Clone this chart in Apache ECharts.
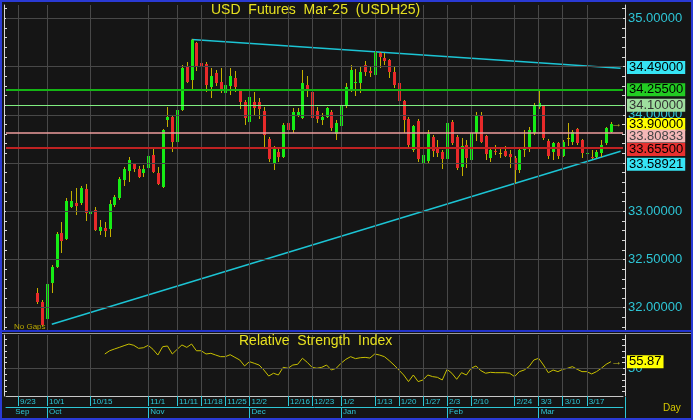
<!DOCTYPE html>
<html><head><meta charset="utf-8">
<script src="https://cdn.jsdelivr.net/npm/echarts/dist/echarts.min.js"></script>
<style>html,body{margin:0;padding:0;background:#151515}#c{width:693px;height:420px}</style>
</head><body><div id="c"></div>
<script>
// ---------- DATA ----------
const dates = ['9/19','9/20','9/23','9/24','9/25','9/26','9/27','9/30','10/1','10/2','10/3','10/4','10/7','10/8','10/9','10/10','10/11','10/15','10/16','10/17','10/18','10/21','10/22','10/23','10/24','10/25','10/28','10/29','10/30','11/1','11/4','11/5','11/6','11/7','11/8','11/11','11/12','11/13','11/14','11/15','11/18','11/19','11/20','11/21','11/22','11/25','11/26','11/27','11/28','11/29','12/2','12/3','12/4','12/5','12/6','12/9','12/10','12/11','12/16','12/17','12/18','12/19','12/20','12/23','12/24','12/26','12/27','12/30','12/31','1/2','1/3','1/6','1/7','1/8','1/9','1/10','1/13','1/14','1/15','1/16','1/17','1/20','1/21','1/22','1/23','1/24','1/27','1/28','1/29','1/30','1/31','2/3','2/4','2/5','2/6','2/7','2/10','2/11','2/12','2/13','2/14','2/18','2/19','2/20','2/21','2/24','2/25','2/26','2/27','2/28','3/3','3/4','3/5','3/6','3/7','3/10','3/11','3/12','3/13','3/14','3/17','3/18','3/19','3/20','3/21','3/24','3/25','3/26'];
const candleStart = 6;   // index in dates of the first candle (9/27)
const open = [32.155,32.060,31.884,32.257,32.423,32.775,32.713,33.045,33.086,33.086,33.231,32.972,33.014,32.796,32.827,32.817,33.065,33.138,33.324,33.418,33.490,33.438,33.397,33.449,33.584,33.397,33.252,33.946,33.977,33.718,34.050,34.506,34.361,34.744,34.537,34.526,34.288,34.433,34.340,34.226,34.299,34.381,34.246,34.132,33.925,34.132,34.132,34.039,33.749,33.501,33.614,33.563,33.915,33.842,33.998,33.967,34.309,34.236,34.039,33.946,33.977,34.029,33.801,33.884,34.101,34.257,34.330,34.330,34.516,34.454,34.412,34.640,34.588,34.568,34.443,34.330,34.143,33.956,33.635,33.936,33.501,33.521,33.770,33.656,33.614,33.542,33.925,33.770,33.459,33.687,33.532,33.811,33.998,33.780,33.553,33.625,33.604,33.625,33.594,33.553,33.428,33.635,33.656,33.811,34.081,34.091,33.729,33.614,33.708,33.573,33.760,33.718,33.853,33.739,33.594,33.563,33.563,33.604,33.708,33.822];
const close = [32.060,31.822,32.247,32.423,32.765,32.692,33.107,33.107,33.055,33.241,32.983,33.003,32.806,32.837,32.796,33.076,33.148,33.335,33.438,33.532,33.438,33.355,33.438,33.573,33.408,33.283,33.842,33.977,33.718,34.050,34.485,34.340,34.775,34.506,34.495,34.309,34.402,34.329,34.267,34.309,34.402,34.288,34.132,33.967,34.184,34.070,34.060,33.791,33.542,33.656,33.563,33.894,33.842,34.029,34.029,34.329,34.247,33.967,33.956,33.977,34.070,33.863,33.915,34.101,34.288,34.464,34.340,34.443,34.443,34.433,34.651,34.599,34.557,34.443,34.309,34.143,33.946,33.687,33.884,33.542,33.584,33.801,33.625,33.604,33.542,33.915,33.708,33.449,33.677,33.553,33.811,33.987,33.718,33.594,33.635,33.614,33.604,33.573,33.563,33.428,33.635,33.656,33.842,34.101,34.122,33.760,33.573,33.708,33.573,33.718,33.760,33.822,33.708,33.604,33.604,33.553,33.614,33.687,33.863,33.900];
const low = [32.040,31.811,31.873,32.153,32.413,32.568,32.703,33.034,32.962,33.065,32.900,32.775,32.796,32.754,32.733,32.733,33.045,33.117,33.262,33.303,33.408,33.345,33.355,33.428,33.397,33.272,33.241,33.873,33.614,33.708,34.039,34.329,34.247,34.454,34.402,34.236,34.174,34.299,34.226,34.174,34.205,34.236,34.060,33.894,33.915,33.998,33.956,33.667,33.511,33.428,33.511,33.553,33.811,33.811,33.977,33.956,34.184,33.904,33.915,33.894,33.967,33.832,33.739,33.873,34.070,34.236,34.195,34.226,34.402,34.392,34.350,34.485,34.516,34.381,34.278,34.132,33.811,33.646,33.614,33.511,33.408,33.501,33.563,33.563,33.438,33.532,33.687,33.428,33.366,33.449,33.511,33.728,33.708,33.532,33.511,33.584,33.553,33.563,33.449,33.293,33.397,33.563,33.614,33.790,34.060,33.739,33.542,33.532,33.542,33.563,33.677,33.687,33.687,33.553,33.553,33.542,33.553,33.563,33.687,33.811];
const high = [32.206,32.081,32.268,32.443,32.785,32.889,33.138,33.210,33.241,33.262,33.283,33.045,33.045,32.910,32.889,33.117,33.169,33.355,33.459,33.563,33.501,33.469,33.480,33.604,33.656,33.459,33.853,34.081,33.988,34.070,34.516,34.547,34.785,34.754,34.640,34.547,34.485,34.464,34.485,34.329,34.485,34.454,34.257,34.153,34.226,34.236,34.174,34.081,33.770,33.677,33.666,33.915,33.936,34.070,34.070,34.464,34.402,34.247,34.081,34.018,34.081,34.050,33.946,34.112,34.329,34.516,34.475,34.495,34.557,34.506,34.671,34.651,34.640,34.578,34.495,34.392,34.153,33.977,33.894,33.956,33.687,33.842,33.791,33.739,33.635,34.060,33.946,33.791,33.760,33.739,33.863,34.029,34.029,33.791,33.656,33.687,33.666,33.677,33.635,33.573,33.656,33.842,33.873,34.122,34.267,34.101,33.749,33.718,33.718,33.739,33.915,33.842,33.863,33.749,33.656,33.635,33.635,33.739,33.873,33.925];
const rsiStart = 20;     // index in dates of the first RSI value
const rsi = [62.5,65.3,66.8,68.2,69.7,71.1,70.0,67.4,67.9,70.0,66.5,61.6,68.8,69.4,62.5,66.5,70.3,68.2,71.1,65.3,65.3,62.5,63.1,61.6,60.2,60.2,61.9,59.6,57.3,52.2,55.9,54.5,53.0,48.7,43.5,45.9,44.4,51.0,50.2,53.0,53.6,58.8,55.3,51.0,50.2,51.0,53.0,48.7,50.2,54.5,57.9,60.2,58.5,59.3,59.6,59.0,62.5,61.6,60.2,56.8,53.0,48.7,44.4,38.7,44.4,38.7,40.1,44.4,43.0,42.4,40.1,49.3,45.9,40.7,46.4,44.4,50.2,52.2,48.2,45.9,46.7,46.4,46.4,46.4,45.9,43.0,47.3,48.7,51.6,57.3,58.8,53.0,46.4,48.7,47.3,49.3,50.2,51.6,49.3,47.3,47.3,45.3,47.3,50.2,53.6,55.87];
const tickDates = ['9/23','10/1','10/15','11/1','11/11','11/18','11/25','12/2','12/16','12/23','1/2','1/13','1/20','1/27','2/3','2/10','2/24','3/3','3/10','3/17'];
const monthDates = ['9/20','10/1','11/1','12/2','1/2','2/3','3/3'];
const monthNames = ['Sep','Oct','Nov','Dec','Jan','Feb','Mar'];
const priceLabels = [32, 32.5, 33, 33.5, 34, 34.5, 35];
const rsiLabels = [50];
const trendDownDates = ['11/14','3/26'];
const trendDownVals = [34.78, 34.482];
const trendUpDates = ['10/2','3/26'];
const trendUpVals = [31.829, 33.622];
const levelVals = [34.255, 34.10, 33.80833, 33.655];
const lastPrice = 33.90, trendDownLast = 34.49, trendUpLast = 33.58921, rsiLast = 55.87;

// ---------- STYLE ----------
const BG = '#151515', GRIDC = '#484848', CYAN = '#2ec6d6', YEL = '#e6e020';
const UP = '#16ec16', DOWN = '#e82a2a', WICK = '#c4b000';
const NONE = 'rgba(0,0,0,0)';
const FONT = 'Liberation Sans, Arial, sans-serif';
const priceTicks = []; for (let v = 318; v <= 351; v++) priceTicks.push(v / 10);
const rsiTicks = [30, 35, 40, 45, 50, 55, 60, 65, 70, 75];
const tickSet = new Set(tickDates);
const monthTickSet = new Set(monthDates.slice(1));
const monthSet = new Set(monthDates);

const candleData = open.map((o, i) => [dates[candleStart + i], o, close[i], low[i], high[i]]);
const rsiData = rsi.map((v, i) => [dates[rsiStart + i], v]);

function renderCandle(params, api) {
  const idx = api.value(0);
  const o = api.value(1), c = api.value(2), l = api.value(3), h = api.value(4);
  const pO = api.coord([idx, o]), pC = api.coord([idx, c]);
  const pL = api.coord([idx, l]), pH = api.coord([idx, h]);
  const x = Math.round(pO[0]);
  const top = Math.round(Math.min(pO[1], pC[1])), bot = Math.round(Math.max(pO[1], pC[1]));
  const fill = c === o ? WICK : (c > o ? UP : DOWN);
  return { type: 'group', children: [
    { type: 'line', shape: { x1: x + 0.5, y1: Math.round(pH[1]), x2: x + 0.5, y2: Math.round(pL[1]) }, style: { stroke: WICK, lineWidth: 1 } },
    { type: 'rect', shape: { x: x - 1, y: top, width: 3, height: Math.max(1, bot - top) }, style: { fill: fill } }
  ]};
}

function boxLabel(text, bg, fg, dy) {
  return { show: true, position: 'end', distance: 4, formatter: text, backgroundColor: bg, color: fg,
    fontSize: 13, fontFamily: FONT, lineHeight: 13, padding: [0, 2, 0, 2], offset: [0, dy || 0] };
}
function levelLine(v, color, width, label) {
  return { yAxis: v, lineStyle: { color: color || NONE, width: width, type: 'solid' }, label: label };
}
const gridItem = (key, v) => ({ [key]: v, lineStyle: { color: GRIDC, width: 1, type: 'solid' }, label: { show: false } });
const mainGridMarks = priceLabels.map(v => gridItem('yAxis', v)).concat(tickDates.map(d => gridItem('xAxis', d)));
const rsiGridMarks = rsiLabels.map(v => gridItem('yAxis', v)).concat(tickDates.map(d => gridItem('xAxis', d)));

const option = {
  backgroundColor: BG,
  animation: false,
  title: [
    { text: 'USD  Futures  Mar-25  (USDH25)', left: 211, top: 3, padding: 0,
      textStyle: { color: YEL, fontSize: 14, fontWeight: 'normal', fontFamily: FONT } },
    { text: 'Relative  Strength  Index', left: 239, top: 334, padding: 0,
      textStyle: { color: YEL, fontSize: 14, fontWeight: 'normal', fontFamily: FONT } }
  ],
  grid: [
    { left: 6, right: 70, top: 5, height: 325 },
    { left: 6, right: 70, top: 335, height: 61 }
  ],
  xAxis: [
    { type: 'category', gridIndex: 0, data: dates, boundaryGap: true,
      axisLine: { show: false }, axisTick: { show: false }, axisLabel: { show: false }, splitLine: { show: false } },
    { type: 'category', gridIndex: 1, data: dates, boundaryGap: true,
      axisLine: { show: true, lineStyle: { color: '#c8c8c8', width: 1 } },
      axisTick: { show: true, alignWithLabel: true, length: 10, interval: (i, v) => tickSet.has(v), lineStyle: { color: CYAN } },
      axisLabel: { show: true, interval: (i, v) => tickSet.has(v), color: CYAN, fontSize: 8, fontFamily: FONT,
        align: 'left', margin: 2, padding: [0, 0, 0, 2] },
      splitLine: { show: false } },
    { type: 'category', gridIndex: 1, data: dates, boundaryGap: true, position: 'bottom', offset: 11,
      axisLine: { show: true, lineStyle: { color: CYAN, width: 1 } },
      axisTick: { show: true, alignWithLabel: true, length: 11, interval: (i, v) => monthTickSet.has(v), lineStyle: { color: CYAN } },
      axisLabel: { show: true, interval: (i, v) => monthSet.has(v), color: CYAN, fontSize: 8, fontFamily: FONT,
        align: 'left', margin: 1, padding: [0, 0, 0, 2], formatter: v => monthNames[monthDates.indexOf(v)] },
      splitLine: { show: false } }
  ],
  yAxis: [
    { type: 'value', gridIndex: 0, position: 'right', offset: 2, min: 31.769, max: 35.138, scale: true,
      axisLine: { show: true, lineStyle: { color: '#d8d8d8' } },
      axisTick: { show: true, inside: true, length: 3, customValues: priceTicks, lineStyle: { color: '#d8d8d8' } },
      axisLabel: { show: true, customValues: priceLabels, formatter: v => v.toFixed(5), color: CYAN, fontSize: 13, fontFamily: FONT, margin: 3 },
      splitLine: { show: false } },
    { type: 'value', gridIndex: 0, position: 'left', offset: 2, min: 31.769, max: 35.138, scale: true,
      axisLine: { show: true, lineStyle: { color: '#d8d8d8' } },
      axisTick: { show: true, inside: true, length: 3, customValues: priceTicks, lineStyle: { color: '#d8d8d8' } },
      axisLabel: { show: false }, splitLine: { show: false } },
    { type: 'value', gridIndex: 1, position: 'right', offset: 2, min: 26.29, max: 78.88,
      axisLine: { show: true, lineStyle: { color: '#d8d8d8' } },
      axisTick: { show: true, inside: true, length: 3, customValues: rsiTicks, lineStyle: { color: '#d8d8d8' } },
      axisLabel: { show: true, customValues: rsiLabels, color: CYAN, fontSize: 13, fontFamily: FONT, margin: 3 },
      splitLine: { show: false } },
    { type: 'value', gridIndex: 1, position: 'left', offset: 2, min: 26.29, max: 78.88,
      axisLine: { show: true, lineStyle: { color: '#d8d8d8' } },
      axisTick: { show: true, inside: true, length: 3, customValues: rsiTicks, lineStyle: { color: '#d8d8d8' } },
      axisLabel: { show: false }, splitLine: { show: false } }
  ],
  series: [
    { type: 'line', xAxisIndex: 0, yAxisIndex: 0, data: [], z: 2, silent: true,
      markLine: { silent: true, symbol: 'none', animation: false,
        data: mainGridMarks.concat([
          levelLine(trendDownLast, null, 1, boxLabel('34.49000', '#36e4f4', '#000', 0)),
          levelLine(levelVals[0], '#14b414', 2, boxLabel('34.25500', '#22cc22', '#000', 0)),
          levelLine(levelVals[1], '#80ee80', 1, boxLabel('34.10000', '#9ede9e', '#333', 0)),
          levelLine(lastPrice, null, 1, boxLabel('33.90000', '#ffff00', '#000', 0)),
          levelLine(levelVals[2], '#ec9c9c', 1.5, boxLabel('33.80833', '#f4b8b8', '#444', 3)),
          levelLine(levelVals[3], '#c02222', 2, boxLabel('33.65500', '#e8302f', '#000', 2)),
          levelLine(trendUpLast, null, 1, boxLabel('33.58921', '#36e4f4', '#000', 10))
        ]) } },
    { type: 'line', xAxisIndex: 0, yAxisIndex: 0, z: 3, silent: true, showSymbol: false,
      data: trendDownDates.map((d, i) => [d, trendDownVals[i]]), lineStyle: { color: '#1cc4d4', width: 1.5 } },
    { type: 'line', xAxisIndex: 0, yAxisIndex: 0, z: 3, silent: true, showSymbol: false,
      data: trendUpDates.map((d, i) => [d, trendUpVals[i]]), lineStyle: { color: '#1cc4d4', width: 1.5 } },
    { type: 'custom', xAxisIndex: 0, yAxisIndex: 0, z: 4, renderItem: renderCandle, data: candleData,
      encode: { x: 0, y: [1, 2, 3, 4] }, clip: true },
    { type: 'scatter', xAxisIndex: 0, yAxisIndex: 0, z: 5, silent: true, symbolSize: 1,
      itemStyle: { color: NONE }, data: [[dates[candleStart + close.length], close[close.length - 1]]],
      label: { show: true, position: 'inside', formatter: '\u2192', color: YEL, fontSize: 11, offset: [1, 0] } },
    { type: 'line', xAxisIndex: 1, yAxisIndex: 2, z: 3, silent: true, showSymbol: false, data: rsiData,
      lineStyle: { color: '#c8c000', width: 1 },
      markLine: { silent: true, symbol: 'none', animation: false,
        data: rsiGridMarks.concat([ { yAxis: rsiLast, lineStyle: { color: NONE, width: 1 }, label: boxLabel('55.87', '#ffff00', '#000', 0) } ]) } },
    { type: 'scatter', xAxisIndex: 1, yAxisIndex: 2, z: 5, silent: true, symbolSize: 1,
      itemStyle: { color: NONE }, data: [[dates[rsiStart + rsi.length], rsi[rsi.length - 1]]],
      label: { show: true, position: 'inside', formatter: '\u2192', color: YEL, fontSize: 11, offset: [1, 0] } }
  ],
  graphic: [
    { type: 'text', left: 14, top: 323, z: 10, style: { text: 'No Gaps', fill: '#b8a800', font: '8px ' + FONT } },
    { type: 'text', left: 663, top: 403, z: 10, style: { text: 'Day', fill: '#d8c800', font: '10px ' + FONT } },
    { type: 'line', z: 10, shape: { x1: 0, y1: 331, x2: 693, y2: 331 }, style: { stroke: '#2233cc', lineWidth: 2 } },
    { type: 'line', z: 10, shape: { x1: 0, y1: 333.5, x2: 693, y2: 333.5 }, style: { stroke: '#9a9a9a', lineWidth: 1 } },
    { type: 'line', z: 10, shape: { x1: 625.5, y1: 397, x2: 625.5, y2: 419 }, style: { stroke: CYAN, lineWidth: 1 } },
    { type: 'rect', z: 10, shape: { x: 1, y: 1, width: 691, height: 418 }, style: { fill: 'none', stroke: '#2a3ad4', lineWidth: 2 } }
  ]
};
const chart = echarts.init(document.getElementById('c'));
chart.setOption(option);
</script>
</body></html>
